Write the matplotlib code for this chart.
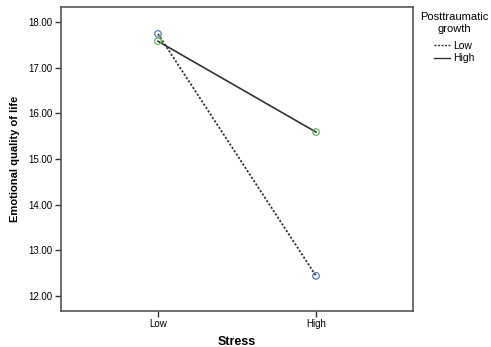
import matplotlib
matplotlib.use("Agg")
import matplotlib.pyplot as plt
from matplotlib.lines import Line2D

plt.rcParams['font.family'] = ['Liberation Sans', 'DejaVu Sans']

stress = ["Low", "High"]
ptg_low = [17.74, 12.44]
ptg_high = [17.58, 15.59]
yticks = [12.0, 13.0, 14.0, 15.0, 16.0, 17.0, 18.0]

fig = plt.figure(figsize=(4.91, 3.47), dpi=100)
ax = fig.add_axes([61/491, 36/347, 352/491, 304/347])
x = list(range(len(stress)))
ax.plot(x, ptg_low, color='#333333', linestyle=(0, (1.2, 1.0)), linewidth=1.3, zorder=2)
ax.plot(x, ptg_high, color='#333333', linestyle='-', linewidth=1.2, zorder=2)
ax.scatter(x, ptg_low, s=22, facecolors='none', edgecolors='#5a78b8', linewidths=0.9, zorder=3)
ax.scatter(x, ptg_high, s=22, facecolors='none', edgecolors='#5cb85c', linewidths=0.9, zorder=3)

ax.set_xlim(-0.614, 1.614)
ax.set_ylim(11.67, 18.33)
ax.set_xticks(x)
ax.set_xticklabels(stress, fontsize=7)
ax.set_yticks(yticks)
ax.set_yticklabels([f"{v:.2f}" for v in yticks], fontsize=7)
for s in ax.spines.values():
    s.set_color('#555555')
    s.set_linewidth(1.2)
ax.tick_params(direction='out', length=4, width=1, color='#333333', pad=2)
ax.set_xlabel("Stress", fontsize=9, fontweight='bold', labelpad=5)
ax.set_ylabel("Emotional quality of life", fontsize=8, fontweight='bold', labelpad=6)

handles = [Line2D([], [], color='#333333', linestyle=(0, (1.5, 1.0)), linewidth=1.0),
           Line2D([], [], color='#333333', linestyle='-', linewidth=1.0)]
leg = fig.legend(handles, ["Low", "High"], title="Posttraumatic\ngrowth",
                 loc='upper center', bbox_to_anchor=(454/491, 1 - 7/347),
                 frameon=False, fontsize=7.5, title_fontsize=8,
                 handlelength=1.5, handletextpad=0.3, labelspacing=0.25, borderpad=0)
leg.get_title().set_multialignment('center')
leg._legend_box.sep = 5

fig.savefig("out.png", dpi=100)
